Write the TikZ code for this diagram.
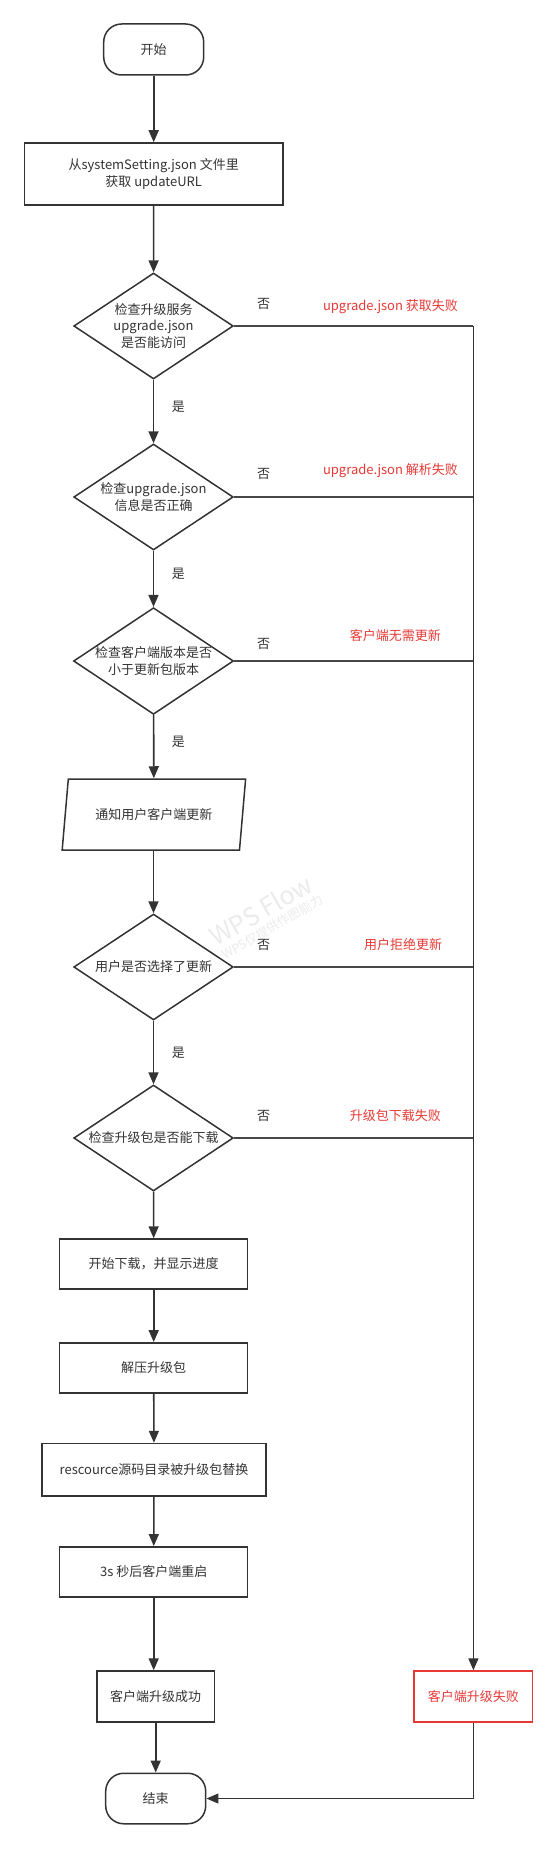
\documentclass[tikz,border=0pt]{standalone}
\usepackage{fontspec}
\setmainfont{Noto Sans CJK SC}
\usepackage{xcolor}
\usepackage{tikz}
\usetikzlibrary{shapes.geometric}
\usetikzlibrary{arrows.meta,calc}
\definecolor{ink}{HTML}{333333}
\definecolor{failred}{HTML}{E53935}

\begin{document}
\begin{tikzpicture}[x=1pt, y=-1pt,
    font=\fontsize{13}{16.5}\selectfont, text=ink,
    every node/.style={inner sep=0pt, align=center},
    term/.style={draw=ink, line width=1.5pt, rounded corners=18pt,
                 minimum width=100pt, minimum height=51pt},
    proc/.style={draw=ink, line width=1.5pt, minimum width=188pt, minimum height=50pt},
    decision/.style={diamond, draw=ink, line width=1.5pt, aspect=1.5,
                     minimum width=159.5pt, minimum height=106pt},
    iobox/.style={trapezium, trapezium left angle=71, trapezium right angle=109,
                  trapezium stretches=true, draw=ink, line width=1.5pt,
                  minimum width=183.7pt, minimum height=71pt},
    flow/.style={draw=ink, line width=1.6pt, -{Triangle[length=12pt,width=10pt]}},
    noline/.style={draw=ink!90, line width=1.2pt},
    failnote/.style={text=failred},
    answer/.style={text=ink}
    ]
    \useasboundingbox (0,0) rectangle (556,1849);
    % Watermark
    \node (wm1) [rotate=30, text=black!8, font=\fontsize{25}{25}\selectfont] at (261,910) {WPS Flow};
    \node (wm2) [rotate=30, text=black!8, font=\fontsize{12.5}{12.5}\selectfont] at (272.5,927) {WPS仅提供作图能力};
    % Main column
    \node (start) [term] at (153.7,49.5) {开始};
    \node (readurl) [proc, minimum width=258.5pt, minimum height=62pt] at (153.7,174)
        {从systemSetting.json 文件里\\获取 updateURL};
    \node (chkserver) [decision] at (153.5,326) {检查升级服务\\upgrade.json\\是否能访问};
    \node (chkjson) [decision] at (153.5,497) {检查upgrade.json\\信息是否正确};
    \node (chkver) [decision] at (153.5,661) {检查客户端版本是否\\小于更新包版本};
    \node (notify) [iobox] at (153.9,814.5) {通知用户客户端更新};
    \node (chkuser) [decision] at (153.5,967) {用户是否选择了更新};
    \node (chkdl) [decision] at (153.5,1138) {检查升级包是否能下载};
    \node (download) [proc] at (153.7,1264) {开始下载，并显示进度};
    \node (unzip) [proc] at (153.7,1367.8) {解压升级包};
    \node (replace) [proc, minimum width=224pt, minimum height=52.4pt] at (154,1469.7)
        {rescource源码目录被升级包替换};
    \node (restart) [proc] at (153.7,1571.8) {3s 秒后客户端重启};
    \node (success) [proc, minimum width=117.7pt, minimum height=51pt] at (155.7,1696.5) {客户端升级成功};
    \node (stop) [term, minimum height=50.5pt] at (155.7,1798.5) {结束};
    % Failure box
    \node (fail) [proc, draw=failred, text=failred, minimum width=118.4pt, minimum height=51pt]
        at (473.4,1696.5) {客户端升级失败};
    % Yes / no labels
    \node (no1) [answer] at (263.5,304) {否};
    \node (no2) [answer] at (263.5,474) {否};
    \node (no3) [answer] at (263.5,644) {否};
    \node (no4) [answer] at (263.5,945) {否};
    \node (no5) [answer] at (263.5,1116) {否};
    \node (yes1) [answer] at (178.4,407) {是};
    \node (yes2) [answer] at (178.4,574) {是};
    \node (yes3) [answer] at (178.4,742) {是};
    \node (yes4) [answer] at (178.4,1053) {是};
    \node (err1) [failnote] at (390.5,307) {upgrade.json 获取失败};
    \node (err2) [failnote] at (390.5,471) {upgrade.json 解析失败};
    \node (err3) [failnote] at (395.4,636) {客户端无需更新};
    \node (err4) [failnote] at (403,945) {用户拒绝更新};
    \node (err5) [failnote] at (395.4,1116) {升级包下载失败};
    % Arrows
    \draw [flow] (start) -- (readurl);
    \draw [flow] (readurl) -- (chkserver);
    \draw [flow] (chkserver) -- (chkjson);
    \draw [flow] (chkjson) -- (chkver);
    \draw [flow] (chkver) -- (notify);
    \draw [flow] (notify.south -| chkuser) -- (chkuser);
    \draw [flow] (chkuser) -- (chkdl);
    \draw [flow] (chkdl) -- (download);
    \draw [flow] (download) -- (unzip);
    \draw [flow] (unzip) -- (replace);
    \draw [flow] (replace) -- (restart);
    \draw [flow] (restart.south) -- (restart.south |- success.north);
    \draw [flow] (success) -- (stop);
    % No branches
    \coordinate (railtop) at (chkserver.east -| fail);
    \draw [noline] (chkserver.east) -- (railtop);
    \draw [flow] (railtop) -- (fail.north);
    \foreach \d in {chkjson,chkver,chkuser,chkdl}
    {
    \draw [noline] (\d.east) -- (\d.east -| fail);
    }
    \draw [flow, line width=1.2pt] (fail.south) |- (stop.east);
\end{tikzpicture}
\end{document}
